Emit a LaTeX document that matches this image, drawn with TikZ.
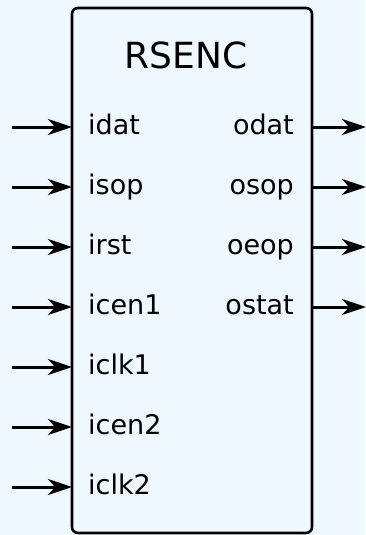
\documentclass[tikz,border=0pt]{standalone}
\usepackage{fontspec}
\setmainfont{DejaVu Sans}
\usetikzlibrary{arrows.meta}
\definecolor{bg}{HTML}{F0F8FF}
\begin{document}
\begin{tikzpicture}[x=1pt,y=-1pt,
  blockbox/.style={draw=black, line width=2.6pt, rounded corners=6pt, fill=bg,
    minimum width=240pt, minimum height=525pt, inner sep=0pt},
  port/.style={line width=3pt, -{Stealth[length=24pt,width=16pt,inset=7pt]}},
  inlbl/.style={anchor=base west, font=\fontsize{27}{32}\selectfont, inner sep=0pt},
  outlbl/.style={anchor=base east, font=\fontsize{27}{32}\selectfont, inner sep=0pt},
  ttl/.style={anchor=base, font=\fontsize{36}{42}\selectfont, inner sep=0pt}]
\fill[bg] (0,0) rectangle (365,535);
\useasboundingbox (0,0) rectangle (365,535);
\node[blockbox] (blk) at (192,270.5) {};
\node[ttl] (title) at (186,68) {RSENC};
% inputs
\foreach \n/\y in {idat/127,isop/187,irst/247,icen1/307,iclk1/367,icen2/427,iclk2/487}{
  \coordinate (s\n) at (12,\y);
  \coordinate (e\n) at (72,\y);
  \draw[port] (s\n) -- (e\n);
  \node[inlbl] (l\n) at (88,\y+7) {\n};
}
% outputs
\foreach \n/\y in {odat/127,osop/187,oeop/247,ostat/307}{
  \coordinate (s\n) at (312,\y);
  \coordinate (e\n) at (366,\y);
  \draw[port] (s\n) -- (e\n);
  \node[outlbl] (l\n) at (294,\y+7) {\n};
}
\end{tikzpicture}
\end{document}
